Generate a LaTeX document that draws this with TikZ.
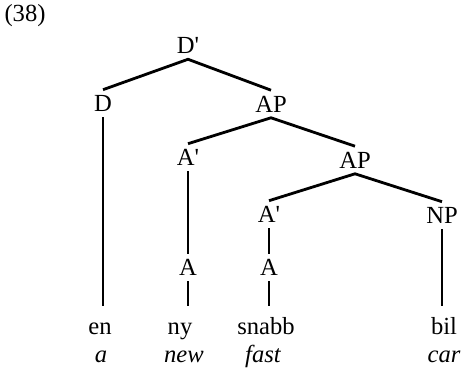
\documentclass[tikz,border=0pt]{standalone}
\usepackage{fontspec}
\setmainfont{Liberation Serif}
\usepackage{tikz}

\newcommand{\treefont}{\fontsize{14}{16}\selectfont}
\tikzset{
  cat/.style={inner sep=3pt, text height=9.3pt, text depth=0pt},
  word/.style={anchor=base, inner xsep=3pt, inner ysep=7pt, text height=9.3pt, text depth=0pt},
  gloss/.style={anchor=base, font=\treefont\itshape},
  branch/.style={line width=1.6pt}
}

\begin{document}
\begin{tikzpicture}[font=\treefont]
\useasboundingbox (0,0) rectangle (9.28,7.40);
% 编号
\node (num) at (0.50,7.08) {(38)};
% 上层节点
\node[cat] (Dbar) at (3.76,6.49) {D\textquotesingle};
\node[cat] (D) at (2.06,5.33) {D};
\node[cat] (APa) at (5.42,5.32) {AP};
\node[cat] (Abara) at (3.76,4.25) {A\textquotesingle};
\node[cat] (APb) at (7.10,4.20) {AP};
\node[cat] (Abarb) at (5.38,3.11) {A\textquotesingle};
\node[cat] (NP) at (8.84,3.09) {NP};
\node[cat] (Aa) at (3.76,2.05) {A};
\node[cat] (Ab) at (5.38,2.05) {A};
% 词与释义
\node[word] (en) at (2.00,0.70) {en};
\node[word] (ny) at (3.60,0.70) {ny};
\node[word] (snabb) at (5.32,0.70) {snabb};
\node[word] (bil) at (8.88,0.70) {bil};
\node[gloss] (a) at (2.02,0.14) {a};
\node[gloss] (new) at (3.68,0.14) {new};
\node[gloss] (fast) at (5.26,0.14) {fast};
\node[gloss] (car) at (8.88,0.14) {car};
% 树枝
\draw[branch] (D.north) -- (Dbar.south) -- (APa.north);
\draw[branch] (Abara.north) -- (APa.south) -- (APb.north);
\draw[branch] (Abarb.north) -- (APb.south) -- (NP.north);
\draw[branch] (D.south) -- (D.south |- en.north);
\draw[branch] (Abara.south) -- (Aa.north);
\draw[branch] (Aa.south) -- (Aa.south |- ny.north);
\draw[branch] (Abarb.south) -- (Ab.north);
\draw[branch] (Ab.south) -- (Ab.south |- snabb.north);
\draw[branch] (NP.south) -- (NP.south |- bil.north);
\end{tikzpicture}
\end{document}
